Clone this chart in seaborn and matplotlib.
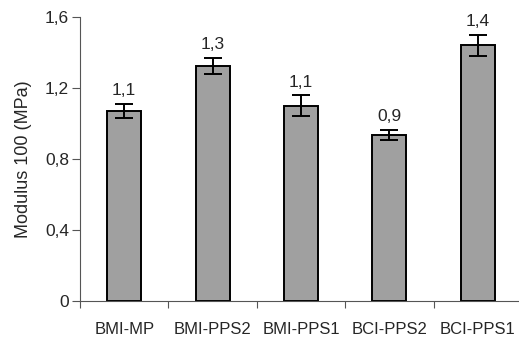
import numpy as np
import pandas as pd
import matplotlib
matplotlib.use("Agg")
import matplotlib.pyplot as plt
import seaborn as sns
from matplotlib.ticker import FixedLocator, FuncFormatter

# --- Data ---
samples = ["BMI-MP", "BMI-PPS2", "BMI-PPS1", "BCI-PPS2", "BCI-PPS1"]
modulus = [1.07, 1.325, 1.10, 0.935, 1.44]
errors = [0.04, 0.045, 0.058, 0.03, 0.06]
value_labels = ["1,1", "1,3", "1,1", "0,9", "1,4"]
y_ticks = [0, 0.4, 0.8, 1.2, 1.6]

sns.set_style("white")
plt.rcParams["font.family"] = ["Liberation Sans", "DejaVu Sans"]

df = pd.DataFrame({"sample": samples, "modulus": modulus})

fig = plt.figure(figsize=(5.19, 3.38), dpi=100)
ax = fig.add_axes([80 / 519, 1 - 301 / 338, 442 / 519, 284 / 338])

sns.barplot(data=df, x="sample", y="modulus", color="#a0a0a0",
            saturation=1, width=0.385, edgecolor="black", linewidth=1.4,
            errorbar=None, ax=ax)

ax.errorbar(np.arange(len(samples)), modulus, yerr=errors, fmt="none",
            ecolor="black", elinewidth=1.4, capsize=6.5, capthick=1.4)

for i, (v, e, lab) in enumerate(zip(modulus, errors, value_labels)):
    ax.annotate(lab, (i, v + e), xytext=(0, 4), textcoords="offset points",
                ha="center", va="bottom", fontsize=12.5)

ax.set_xlim(-0.5, len(samples) - 0.5)
ax.set_ylim(0, 1.6)
ax.yaxis.set_major_locator(FixedLocator(y_ticks))
ax.yaxis.set_major_formatter(FuncFormatter(lambda v, p: f"{v:g}".replace(".", ",")))

# tick marks between categories, labels at centers
ax.xaxis.set_minor_locator(FixedLocator(np.arange(-0.5, len(samples), 1.0)))
ax.tick_params(axis="x", which="major", length=0, pad=15, labelsize=12)
ax.tick_params(axis="x", which="minor", length=5, width=0.8, color="#555555", direction="out", bottom=True)
ax.tick_params(axis="y", length=6, width=0.8, color="#555555", direction="out", left=True,
               pad=2, labelsize=12.5)

ax.set_xlabel("")
ax.set_ylabel("Modulus 100 (MPa)", fontsize=13, labelpad=9)

for side in ["top", "right"]:
    ax.spines[side].set_visible(False)
for side in ["left", "bottom"]:
    ax.spines[side].set_color("#555555")
    ax.spines[side].set_linewidth(0.8)

fig.savefig("out.png", dpi=100)
